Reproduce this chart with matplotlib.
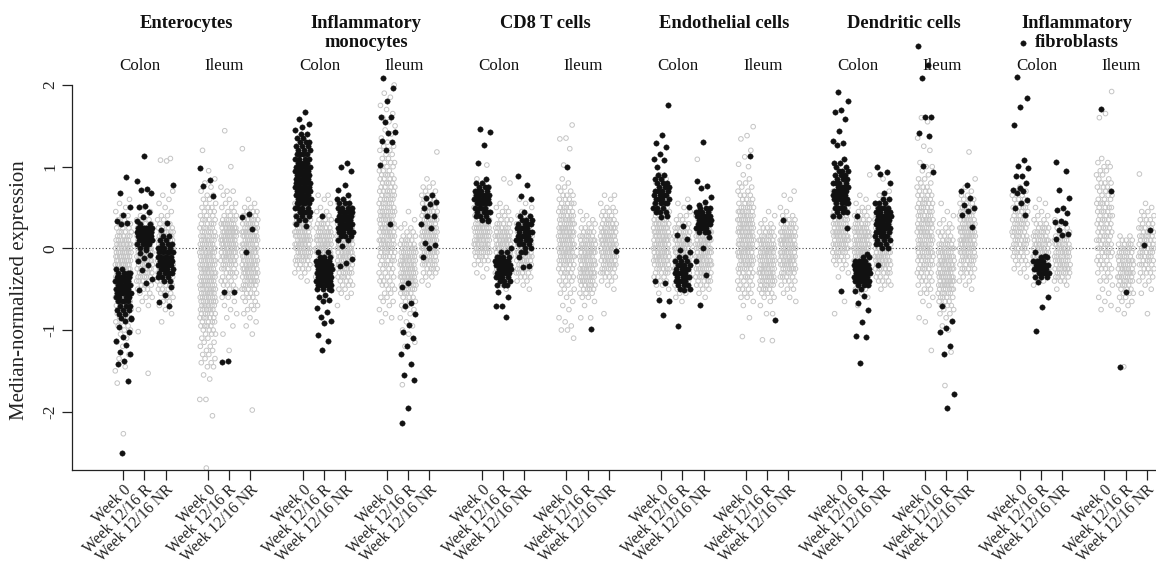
import numpy as np
import matplotlib
matplotlib.use("Agg")
import matplotlib.pyplot as plt

plt.rcParams['font.family'] = ['Liberation Serif', 'DejaVu Serif']

CELL_TYPES = ["Enterocytes", "Inflammatory\nmonocytes", "CD8 T cells",
              "Endothelial cells", "Dendritic cells", "Inflammatory\nfibroblasts"]
TISSUES = ["Colon", "Ileum"]
CONDITIONS = ["Week 0", "Week 12/16 R", "Week 12/16 NR"]

# Each group: (lowest bin value, counts per 0.05-wide bin, extra single values).
# Group order: Colon W0, Colon R, Colon NR, Ileum W0, Ileum R, Ileum NR.
ENT_GREY = [
    (-1.50, [1,1,0,1,1,0,1,1,1,1,2,2,3,3,3,4,4,5,5,5,6,6,7,7,8,8,8,8,8,8,7,7,6,5,4,3,3,2,2,1,1,1,1], [-2.27, -1.65]),
    (-0.75, [1,1,1,2,2,3,3,4,5,5,6,6,7,7,7,7,7,7,7,6,5,4,3,2,1,1], [-1.02, -1.53]),
    (-0.90, [1,0,1,1,1,2,2,3,3,4,5,5,6,6,7,7,7,7,7,7,7,6,5,4,3,2,2,1,1,1,1,1,1], [1.07, 1.08, 1.10]),
    (-1.85, [2,0,0,0,0,1,1,0,2,2,2,2,2,2,2,2,3,3,4,4,5,5,6,6,7,7,7,7,7,7,7,7,7,7,7,7,7,7,6,6,6,5,5,4,4,3,3,3,2,2,2,1,1,1,1,0,1,0,0,0,0,1], [-2.05, -2.69]),
    (-1.25, [1,0,0,0,1,0,1,0,1,1,1,1,1,2,2,2,3,3,3,4,4,5,6,7,7,8,8,8,8,8,7,6,5,3,2,2,2,1,1,2,1,0,0,0,0,1], [1.44]),
    (-1.05, [1,0,1,1,1,1,2,2,2,3,3,4,5,6,6,7,7,7,7,7,7,7,7,7,7,7,6,6,5,4,3,2,1,1], [1.22, -1.98]),
]
ENT_BLACK = [
    (-0.85, [2,2,3,3,4,4,5,5,5,5,5,4,2], [0.87,0.68,0.51,0.41,0.34,0.31,0.30,-0.86,-0.89,-0.96,-1.02,-1.09,-1.13,-1.18,-1.27,-1.29,-1.38,-1.42,-1.63,-2.51]),
    (0.00, [2,4,7,8,8,6,2], [1.13,0.83,0.73,0.72,0.68,0.52,0.51,0.45,0.38,0.33,-0.02,-0.06,-0.08,-0.12,-0.16,-0.20,-0.27,-0.37,-0.42,-0.51]),
    (-0.40, [2,3,4,4,5,5,5,5,4,3,2,2], [0.78,0.31,0.23,-0.47,-0.57,-0.66,-0.71]),
    (0.0, [], [0.98,0.84,0.76,0.64]),
    (0.0, [], [-0.53,-0.54,-1.38,-1.39]),
    (0.0, [], [0.42,0.38,0.24,-0.04]),
]

MONO_GREY = [
    (-0.40, [1,1,2,3,4,5,6,6,7,7,7,7,7,6,6,5,4,4,3,3,2,2,2,1,1], []),
    (-0.50, [1,2,2,3,3,4,5,5,6,7,7,7,7,7,6,5,4,3,2,2,1,1,1,2], []),
    (-0.70, [1,0,1,2,2,3,3,4,5,5,6,6,7,7,7,7,6,6,5,5,4,3,3,2,2,1,1], []),
    (-0.90, [1,1,1,1,1,2,2,2,2,3,3,3,3,3,4,4,5,5,6,6,6,6,6,6,6,6,6,6,5,5,5,5,5,4,4,4,4,3,3,3,2,2,2,2,1,1,1,1,1,1,1,1,1,1,0,1,1,0,1], []),
    (-1.20, [1,1,0,1,1,1,1,1,1,2,2,3,3,4,5,6,7,7,7,7,7,7,7,6,6,5,4,3,2,2,1,1,0,1], [-1.67]),
    (-0.45, [1,1,2,3,4,5,6,6,7,7,7,7,7,7,7,6,6,5,5,4,4,3,3,2,2,1,1], [1.18]),
]
MONO_BLACK = [
    (0.35, [2,3,4,4,5,5,5,5,5,5,5,5,5,5,4,4,4,3,3,3,2,2,1], [1.67,1.58,1.52,1.48,0.30,0.27]),
    (-0.50, [3,5,6,7,7,7,6,5,3,2], [0.39,-0.51,-0.57,-0.60,-0.63,-0.65,-0.73,-0.78,-0.84,-0.89,-0.92,-1.06,-1.13,-1.24]),
    (0.10, [2,3,4,5,5,5,5,5,4,3,2], [1.05,1.00,0.95,0.77,0.72,0.65,0.03,-0.13,-0.18,-0.22]),
    (0.0, [], [2.08,1.96,1.80,1.61,1.61,1.55,1.42,1.41,1.31,1.30,1.20,1.02,0.30]),
    (0.0, [], [-0.42,-0.47,-0.67,-0.71,-0.80,-0.94,-1.02,-1.10,-1.20,-1.29,-1.42,-1.55,-1.61,-1.95,-2.14]),
    (0.0, [], [0.65,0.62,0.57,0.54,0.50,0.40,0.40,0.30,0.25,0.06,0.04,0.00,-0.11]),
]

CD8_GREY = [
    (-0.35, [1,1,1,2,3,4,6,7,7,7,7,7,7,6,5,4,3,3,2,2,2,1,1,1,1], [1.02]),
    (-0.50, [1,1,2,2,3,4,5,6,7,7,7,7,7,7,6,5,4,3,2,2,2,1,0,0,0,0,1,1], []),
    (-0.50, [1,1,2,3,4,5,6,6,7,7,7,7,7,6,5,4,3,2,2,1,1,1,1], []),
    (-1.10, [1,0,2,1,1,1,0,1,1,1,1,2,2,2,3,3,4,4,5,6,7,7,7,7,7,7,7,7,6,6,5,5,4,4,3,3,2,2,1,1], [1.51,1.35,1.34,1.22,1.02]),
    (-0.85, [2,0,0,1,1,2,3,4,5,6,7,7,7,7,7,7,7,7,7,6,5,4,3,2,2,1,1], []),
    (-0.80, [1,0,0,0,0,0,1,1,2,3,4,5,6,6,7,7,7,7,7,7,6,6,5,4,3,3,2,1,1,2], []),
]
CD8_BLACK = [
    (0.35, [2,3,4,4,5,5,5,4,3,2,1], [1.46,1.42,1.27,1.04,0.33]),
    (-0.45, [2,3,4,5,6,6,5,4,2,1], [-0.45,-0.53,-0.59,-0.70,-0.71,-0.84]),
    (-0.05, [1,2,3,4,4,4,4,4,3,2,1], [0.89,0.77,0.64,0.61,-0.05,-0.11,-0.22,-0.23]),
    (0.0, [], [0.99]),
    (0.0, [], [-0.99]),
    (0.0, [], [-0.03]),
]

ENDO_GREY = [
    (-0.55, [1,1,2,2,3,4,5,6,7,7,7,7,7,7,7,7,7,6,5,4,3,2,2,1,1,1,1,1,1,1], []),
    (-0.65, [1,1,2,3,4,5,6,6,7,7,7,7,7,7,7,7,6,5,4,3,2,2,1,1,1,1], []),
    (-0.60, [1,1,2,3,4,5,6,6,7,7,7,7,7,7,7,6,6,5,4,3,2,2,1], [1.09]),
    (-0.85, [1,0,0,1,1,2,2,3,3,3,4,4,5,6,6,7,7,7,7,7,7,7,7,7,7,6,6,5,4,3,3,2,2,2,1,1], [1.49,1.38,1.34,1.20,1.12,1.03,1.00,-1.08]),
    (-0.80, [2,0,1,1,2,3,4,5,6,7,7,7,7,7,7,7,7,6,6,5,4,3,2,1,1,1], [-1.12,-1.13]),
    (-0.65, [1,1,1,2,2,3,4,5,6,7,7,7,7,7,7,7,7,6,5,4,3,2,1,1,0,1,1,1], []),
]
ENDO_BLACK = [
    (0.45, [3,3,4,4,4,4,3,3,2,2], [1.76,1.39,1.29,1.24,1.16,1.09,1.08,1.00,0.40,0.38,-0.40,-0.42,-0.63,-0.65,-0.82]),
    (-0.50, [2,3,4,4,4,4,4,3,2], [0.51,0.27,0.16,0.11,-0.02,-0.04,-0.51,-0.95]),
    (0.20, [3,4,5,5,5,4,3], [1.30,0.83,0.76,0.74,0.63,0.57,0.53,0.14,0.01,-0.16,-0.33,-0.69]),
    (0.0, [], [1.13]),
    (0.0, [], [-0.88]),
    (0.0, [], [0.35]),
]

DC_GREY = [
    (-0.80, [1,0,0,1,0,0,0,0,0,1,1,1,2,3,4,5,6,7,7,7,7,7,6,5,4,3,2,2,1,1,1], []),
    (-0.70, [1,0,1,1,2,2,3,3,4,5,6,6,7,7,7,7,7,7,7,6,5,4,3,2,2,1,1,1], [0.90]),
    (-0.50, [1,2,3,3,4,5,6,7,7,7,7,7,7,7,6,6,5,4,3,3,2,2,1,1,1,0,0,1], []),
    (-0.90, [1,1,0,0,1,1,1,2,2,2,3,3,4,4,5,5,6,6,6,6,6,6,6,6,6,6,5,5,5,5,4,4,3,3,2,2,1,1,2,1,0,0,1,1,0,1,0,0,0,1,1], [-1.25]),
    (-1.00, [1,1,1,1,2,2,3,3,4,5,6,7,7,7,7,7,7,7,7,6,6,5,4,3,3,2,2,1,1,1,0,1], [-1.27,-1.68]),
    (-0.50, [1,1,2,2,3,4,4,5,6,6,7,7,7,7,7,7,6,6,5,5,4,3,3,2,1,1,0,1], [1.18]),
]
DC_BLACK = [
    (0.40, [2,3,4,4,5,5,5,4,4,3,3,3,2,2,1], [1.91,1.80,1.69,1.67,1.58,1.44,1.31,1.29,1.26,0.25,-0.52]),
    (-0.45, [3,5,7,8,8,6,4,2], [0.39,-0.07,-0.50,-0.52,-0.58,-0.67,-0.75,-0.90,-1.07,-1.09,-1.40]),
    (0.00, [2,3,3,4,4,5,5,5,5,4,4,3,2], [1.00,0.93,0.91,0.80,0.68,-0.20]),
    (0.0, [], [2.48,2.24,2.08,1.61,1.61,1.41,1.38,1.01,0.94]),
    (0.0, [], [-0.71,-0.89,-0.98,-1.02,-1.20,-1.29,-1.78,-1.95]),
    (0.0, [], [0.78,0.70,0.62,0.53,0.50,0.46,0.41,0.26]),
]

FIB_GREY = [
    (-0.35, [1,1,2,2,3,3,4,4,5,5,5,5,5,5,5,4,4,4,3,3,2,2,1], []),
    (-0.45, [1,1,2,3,4,5,5,6,6,6,6,6,5,5,4,3,2,2,1,1,1,1], []),
    (-0.50, [1,1,3,4,5,6,6,6,6,6,6,6,5,4,3,2,1,1], []),
    (-0.75, [1,1,1,1,1,1,1,2,2,2,3,3,3,3,4,4,4,4,4,4,4,4,4,4,4,4,4,3,3,3,3,3,2,2,2,2,2,1], [1.92,1.65,1.60]),
    (-0.80, [1,1,1,2,2,3,3,4,5,6,6,6,6,6,5,5,5,4,3,2], [-1.45]),
    (-0.80, [1,0,0,0,0,1,1,1,2,2,3,3,4,4,5,5,5,5,5,5,4,4,3,3,2,2,1,1], [0.91]),
]
FIB_BLACK = [
    (0.0, [], [2.51,2.10,1.84,1.73,1.51,1.08,1.01,0.98,0.89,0.89,0.80,0.74,0.71,0.70,0.68,0.59,0.56,0.49,0.41]),
    (-0.35, [3,4,5,5,4,2], [-0.05,-0.09,-0.41,-0.60,-0.72,-1.01]),
    (0.0, [], [1.06,0.95,0.71,0.62,0.49,0.47,0.43,0.33,0.32,0.31,0.22,0.18,0.16,0.11]),
    (0.0, [], [1.71,0.70]),
    (0.0, [], [-0.53,-1.45]),
    (0.0, [], [0.22,0.04]),
]

GREY_SETS = [ENT_GREY, MONO_GREY, CD8_GREY, ENDO_GREY, DC_GREY, FIB_GREY]
BLACK_SETS = [ENT_BLACK, MONO_BLACK, CD8_BLACK, ENDO_BLACK, DC_BLACK, FIB_BLACK]

BIN = 0.05
CT_STEP = 8.5      # distance between cell-type blocks (in slot units)
TISSUE_STEP = 4.0  # distance between colon and ileum within a block
JITTER = 0.38
TITLE_SHIFT = [0, 0, 0, 0, 0, -0.3]  # horizontal nudge of each block title


def expand(group):
    lo, counts, extras = group
    vals = [round(lo + BIN * i, 2) for i, c in enumerate(counts) for _ in range(c)]
    return np.array(vals + list(extras), dtype=float)


def jitter(n, phase):
    # evenly spread horizontal offsets (golden-ratio sequence)
    return ((np.arange(n) * 0.6180339887 + phase) % 1.0 - 0.5) * 2 * JITTER


def slot(ct, tissue, cond):
    return ct * CT_STEP + tissue * TISSUE_STEP + cond


W, H = 1156, 566
fig = plt.figure(figsize=(W / 100, H / 100), dpi=100)
px_left, px_bottom, px_top = 72, 470, 85
slot_px = 21.1
x0_px = 123.3
ax = fig.add_axes([px_left / W, (H - px_bottom) / H, (W - px_left) / W, (px_bottom - px_top) / H])
xmin = (px_left - x0_px) / slot_px
ax.set_xlim(xmin, xmin + (W - px_left) / slot_px)
ax.set_ylim(-2.714, 2.0)

ax.axhline(0, color='#444444', lw=0.8, ls=(0, (1, 2)), zorder=1)

k = 0
for ct in range(6):
    for g in range(6):
        tissue, cond = divmod(g, 3)
        xc = slot(ct, tissue, cond)
        yv = expand(GREY_SETS[ct][g])
        ax.scatter(xc + jitter(len(yv), 0.13 * k), yv, s=11, facecolors='none',
                   edgecolors='#c4c4c4', linewidths=0.7, zorder=2, clip_on=False)
        k += 1
k = 0
for ct in range(6):
    for g in range(6):
        tissue, cond = divmod(g, 3)
        xc = slot(ct, tissue, cond)
        yv = expand(BLACK_SETS[ct][g])
        ax.scatter(xc + jitter(len(yv), 0.37 + 0.21 * k), yv, s=15, facecolors='#111111',
                   edgecolors='#111111', linewidths=0.3, zorder=3, clip_on=False)
        k += 1

for side in ('top', 'right'):
    ax.spines[side].set_visible(False)
for side in ('left', 'bottom'):
    ax.spines[side].set_linewidth(0.9)
    ax.spines[side].set_color('#222222')

ticks = [slot(ct, t, c) for ct in range(6) for t in range(2) for c in range(3)]
ax.set_xticks(ticks)
ax.set_xticklabels(CONDITIONS * 12, rotation=45, ha='right', va='top',
                   rotation_mode='anchor', fontsize=11.3, color='#222222')
ax.tick_params(axis='x', length=7, width=0.9, pad=1.5, color='#222222')

ax.set_yticks([-2, -1, 0, 1, 2])
ax.set_yticklabels(['-2', '-1', '0', '1', '2'], rotation=90, va='center', fontsize=12.5,
                   color='#222222')
ax.tick_params(axis='y', length=7, width=0.9, pad=3, color='#222222')

fig.text(20 / W, 1 - 290 / H, "Median-normalized expression", rotation=90,
         ha='center', va='center', fontsize=15, color='#222222')

# block titles and tissue labels (y in data units above the panel)
for ct, name in enumerate(CELL_TYPES):
    xc = slot(ct, 0, 0) + 3 + TITLE_SHIFT[ct]
    for i, line in enumerate(name.split("\n")):
        ax.text(xc, 2.696 - 0.232 * i, line, ha='center', va='baseline', fontsize=13.3,
                fontweight='bold', color='#111111', clip_on=False)
    for t, tname in enumerate(TISSUES):
        ax.text(slot(ct, t, 1) - 0.2, 2.182, tname, ha='center', va='baseline',
                fontsize=12.2, color='#111111', clip_on=False)

fig.savefig("out.png", dpi=100)
